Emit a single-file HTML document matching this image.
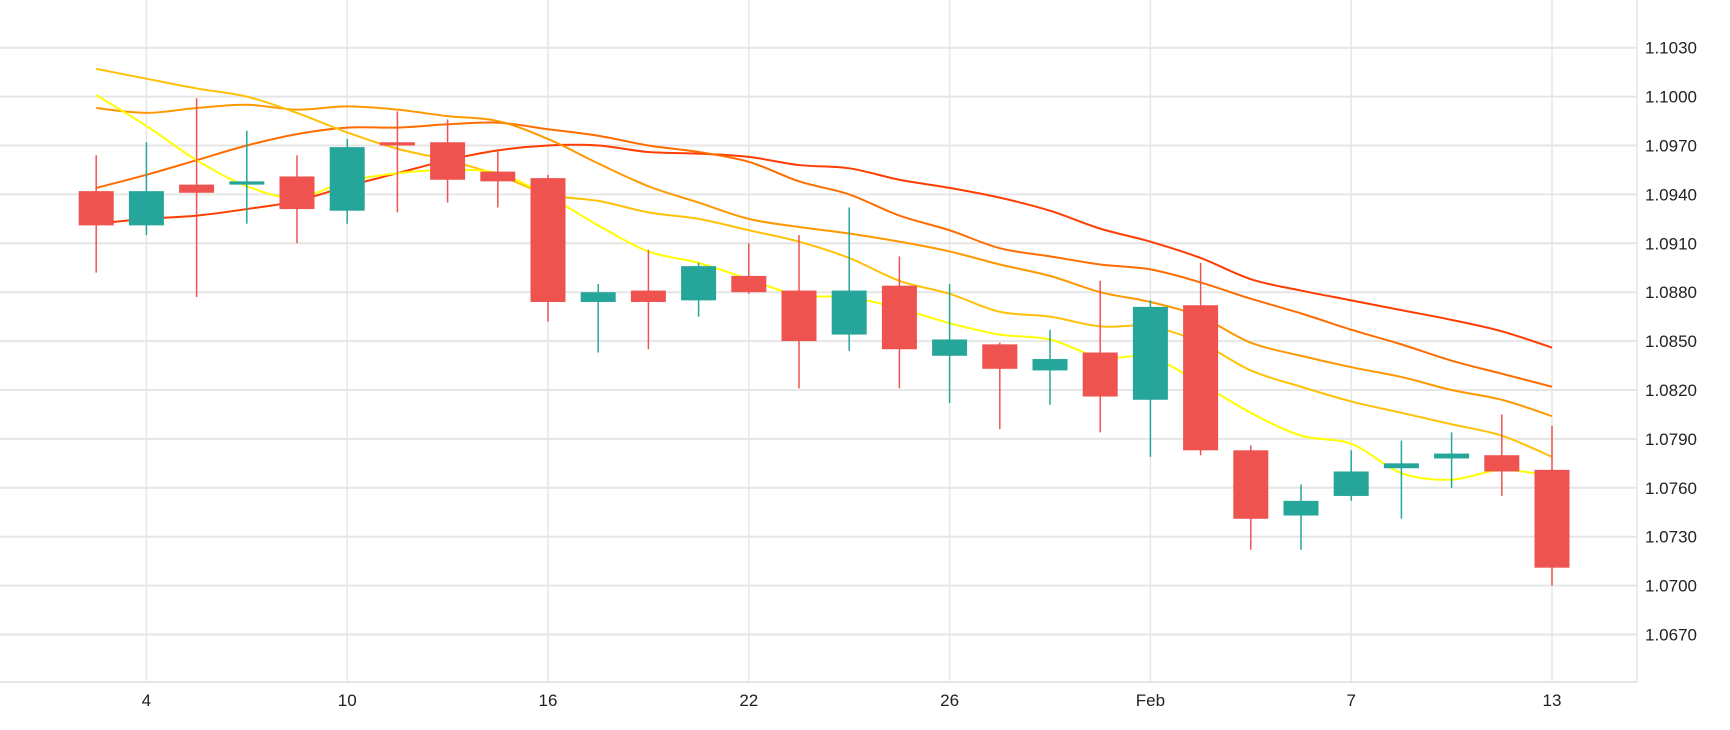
<!DOCTYPE html>
<html><head><meta charset="utf-8">
<style>
html,body{margin:0;padding:0;background:#fff;}
svg{display:block;font-family:"Liberation Sans",sans-serif;}
</style></head>
<body>
<svg id="chart" width="1730" height="730" viewBox="0 0 1730 730" xmlns="http://www.w3.org/2000/svg">
  <g id="grid"></g>
  <g id="mas"></g>
  <g id="candles"></g>
  <g id="yaxis"></g>
  <g id="xaxis"></g>
</svg>
<script>
const opens  = [1.0942,1.0921,1.0946,1.0946,1.0951,1.0930,1.0972,1.0972,1.0954,1.0950,1.0874,1.0881,1.0875,1.0890,1.0881,1.0854,1.0884,1.0841,1.0848,1.0832,1.0843,1.0814,1.0872,1.0783,1.0743,1.0755,1.0772,1.0778,1.0780,1.0771];
const highs  = [1.0964,1.0972,1.0999,1.0979,1.0964,1.0974,1.0991,1.0986,1.0967,1.0952,1.0885,1.0906,1.0898,1.0910,1.0915,1.0932,1.0902,1.0885,1.0849,1.0857,1.0887,1.0875,1.0898,1.0786,1.0762,1.0783,1.0789,1.0794,1.0805,1.0798];
const lows   = [1.0892,1.0915,1.0877,1.0922,1.0910,1.0922,1.0929,1.0935,1.0932,1.0862,1.0843,1.0845,1.0865,1.0879,1.0821,1.0844,1.0821,1.0812,1.0796,1.0811,1.0794,1.0779,1.0780,1.0722,1.0722,1.0752,1.0741,1.0760,1.0755,1.0700];
const closes = [1.0921,1.0942,1.0941,1.0948,1.0931,1.0969,1.0970,1.0949,1.0948,1.0874,1.0880,1.0874,1.0896,1.0880,1.0850,1.0881,1.0845,1.0851,1.0833,1.0839,1.0816,1.0871,1.0783,1.0741,1.0752,1.0770,1.0775,1.0781,1.0770,1.0711];
const ma1 = [1.1001,1.0982,1.0961,1.0945,1.0938,1.0948,1.0953,1.0955,1.0953,1.0939,1.0921,1.0905,1.0898,1.0888,1.0878,1.0877,1.0870,1.0861,1.0854,1.0851,1.0840,1.0840,1.0824,1.0806,1.0792,1.0787,1.0769,1.0765,1.0771,1.0767];
const ma2 = [1.1017,1.1011,1.1005,1.1000,1.0990,1.0978,1.0968,1.0961,1.0952,1.0940,1.0936,1.0929,1.0925,1.0918,1.0911,1.0901,1.0887,1.0879,1.0868,1.0865,1.0859,1.0859,1.0849,1.0832,1.0822,1.0813,1.0806,1.0799,1.0792,1.0779];
const ma3 = [1.0993,1.0990,1.0993,1.0995,1.0992,1.0994,1.0992,1.0988,1.0985,1.0974,1.0959,1.0945,1.0935,1.0925,1.0920,1.0916,1.0911,1.0905,1.0897,1.0890,1.0880,1.0874,1.0865,1.0849,1.0841,1.0834,1.0828,1.0820,1.0814,1.0804];
const ma4 = [1.0944,1.0952,1.0961,1.0970,1.0977,1.0981,1.0981,1.0983,1.0984,1.0980,1.0976,1.0970,1.0966,1.0960,1.0948,1.0940,1.0927,1.0918,1.0907,1.0902,1.0897,1.0894,1.0886,1.0876,1.0867,1.0857,1.0848,1.0838,1.0830,1.0822];
const ma5 = [1.0922,1.0925,1.0927,1.0931,1.0936,1.0945,1.0953,1.0961,1.0967,1.0970,1.0970,1.0966,1.0965,1.0963,1.0958,1.0956,1.0949,1.0944,1.0938,1.0930,1.0919,1.0911,1.0901,1.0888,1.0881,1.0875,1.0869,1.0863,1.0856,1.0846];
const yTicks = [1.1030,1.1000,1.0970,1.0940,1.0910,1.0880,1.0850,1.0820,1.0790,1.0760,1.0730,1.0700,1.0670];
const xTickIdx = [1,5,9,13,17,21,25,29];
const xTickLabels = ["4","10","16","22","26","Feb","7","13"];

const NS="http://www.w3.org/2000/svg";
const PR=1637, PB=682;
function yS(p){return 47.7+(1.1030-p)/0.003*48.9;}
function xS(i){return 146.4+(i-1)*50.2;}
function mk(tag,attrs,parent){const e=document.createElementNS(NS,tag);for(const k in attrs)e.setAttribute(k,attrs[k]);parent.appendChild(e);return e;}

const grid=document.getElementById('grid');
yTicks.forEach(t=>{
  const l=mk('line',{x1:0,x2:PR,y1:yS(t),y2:yS(t),stroke:'#e6e6e6','stroke-width':2},grid);
  
  
});
xTickIdx.forEach(i=>{
  const l=mk('line',{x1:xS(i),x2:xS(i),y1:0,y2:PB,stroke:'#e6e6e6','stroke-width':1.5},grid);
  
  
});
const br=mk('line',{x1:PR,x2:PR,y1:0,y2:PB,stroke:'#e6e6e6','stroke-width':1.5},grid);


const bb=mk('line',{x1:0,x2:PR,y1:PB,y2:PB,stroke:'#e6e6e6','stroke-width':2},grid);



function smooth(vals){
  const pts=vals.map((v,i)=>[xS(i),yS(v)]);
  let d='M'+pts[0][0]+','+pts[0][1];
  for(let i=0;i<pts.length-1;i++){
    const p0=pts[i-1]||pts[i],p1=pts[i],p2=pts[i+1],p3=pts[i+2]||p2;
    const c1=[p1[0]+(p2[0]-p0[0])/6,p1[1]+(p2[1]-p0[1])/6];
    const c2=[p2[0]-(p3[0]-p1[0])/6,p2[1]-(p3[1]-p1[1])/6];
    d+=' C'+c1[0]+','+c1[1]+' '+c2[0]+','+c2[1]+' '+p2[0]+','+p2[1];
  }
  return d;
}
const mas=document.getElementById('mas');
const maList=[[ma5,'#ff3d00','ma-line-5'],[ma4,'#ff6d00','ma-line-4'],[ma3,'#ff9800','ma-line-3'],[ma2,'#ffc107','ma-line-2'],[ma1,'#ffff00','ma-line-1']];
maList.forEach(m=>{
  const p=mk('path',{d:smooth(m[0]),fill:'none',stroke:m[1],'stroke-width':2},mas);
  
  
});

const cg=document.getElementById('candles');
opens.forEach((o,i)=>{
  const c=closes[i],up=c>=o,col=up?'#26a69a':'#ef5350',x=xS(i);
  const g=mk('g',{},cg);
  
  
  mk('line',{x1:x,x2:x,y1:yS(highs[i]),y2:yS(lows[i]),stroke:col,'stroke-width':1.5},g);
  const top=yS(Math.max(o,c)),bot=yS(Math.min(o,c));
  mk('rect',{x:x-17.5,y:top,width:35,height:Math.max(bot-top,3),fill:col},g);
});

const ya=document.getElementById('yaxis');
yTicks.forEach(t=>{
  const tx=mk('text',{x:1645,y:yS(t)+6,'font-size':17,fill:'#222'},ya);
  tx.textContent=t.toFixed(4);
  
  
});
const xa=document.getElementById('xaxis');
xTickIdx.forEach((i,k)=>{
  const tx=mk('text',{x:xS(i),y:706,'font-size':17,fill:'#222','text-anchor':'middle'},xa);
  tx.textContent=xTickLabels[k];
  
  
});
</script>
</body></html>
